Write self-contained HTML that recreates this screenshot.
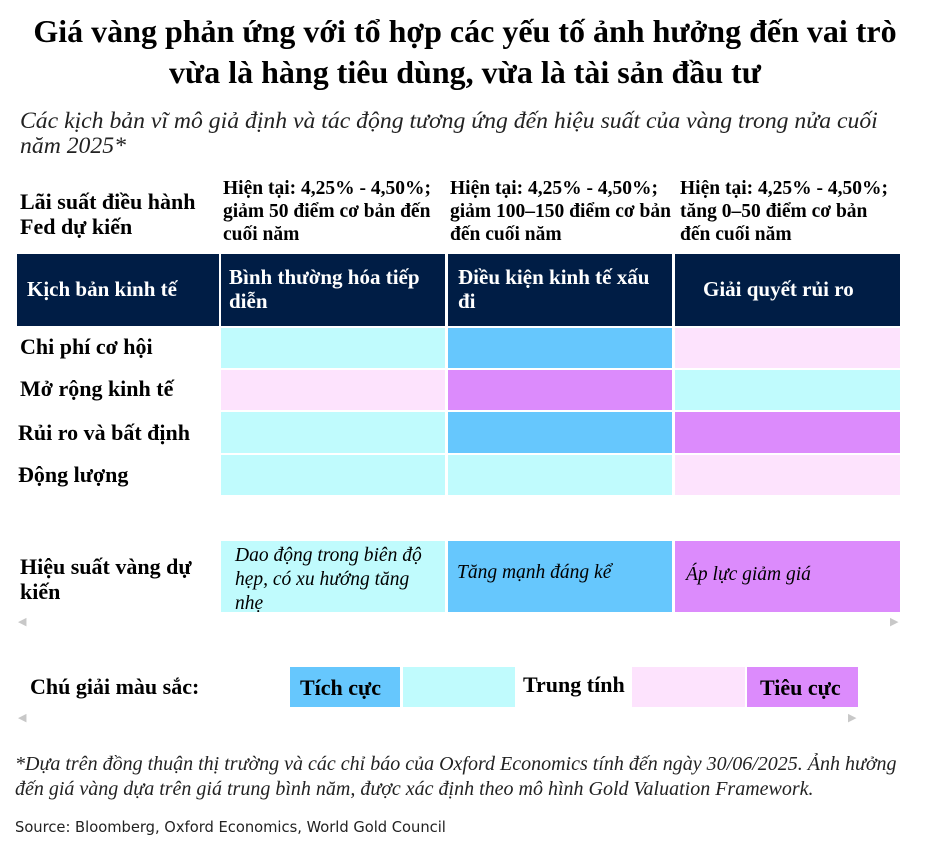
<!DOCTYPE html>
<html><head><meta charset="utf-8"><style>
body{margin:0;width:930px;height:841px;background:#fff;position:relative;font-family:"Liberation Serif",serif;color:#000;overflow:hidden}
.a{position:absolute;box-sizing:border-box;white-space:nowrap}
.b{font-weight:bold}
.nv{background:#001d45;color:#fff;font-weight:bold;font-size:21px;line-height:24px}
.cy{background:#c0fbfd}.bl{background:#66c7fd}.pk{background:#fde3fd}.pu{background:#dc8bfc}
.lab{font-weight:bold;font-size:22px}
.hd{font-weight:bold;font-size:19.5px;line-height:23px}
.it{font-style:italic;font-size:19.5px;line-height:24px}
.arr{color:#c8c8c8;font-size:11px}
</style></head><body>
<div class="a b" style="left:0;top:11px;width:930px;text-align:center;font-size:32px;line-height:41px">Giá vàng phản ứng với tổ hợp các yếu tố ảnh hưởng đến vai trò<br>vừa là hàng tiêu dùng, vừa là tài sản đầu tư</div>
<div class="a" style="left:20px;top:109px;font-style:italic;font-size:23.7px;line-height:25px;color:#222">Các kịch bản vĩ mô giả định và tác động tương ứng đến hiệu suất của vàng trong nửa cuối<br>năm 2025*</div>
<div class="a lab" style="left:20px;top:189px;line-height:25px">Lãi suất điều hành<br>Fed dự kiến</div>
<div class="a hd" style="left:223px;top:177px">Hiện tại: 4,25% - 4,50%;<br>giảm 50 điểm cơ bản đến<br>cuối năm</div>
<div class="a hd" style="left:450px;top:177px">Hiện tại: 4,25% - 4,50%;<br>giảm 100–150 điểm cơ bản<br>đến cuối năm</div>
<div class="a hd" style="left:680px;top:177px">Hiện tại: 4,25% - 4,50%;<br>tăng 0–50 điểm cơ bản<br>đến cuối năm</div>

<div class="a nv" style="left:17px;top:254px;width:202px;height:72px;padding:23px 0 0 10px">Kịch bản kinh tế</div>
<div class="a nv" style="left:221px;top:254px;width:224px;height:72px;padding:11px 0 0 8px">Bình thường hóa tiếp<br>diễn</div>
<div class="a nv" style="left:448px;top:254px;width:224px;height:72px;padding:11px 0 0 10px">Điều kiện kinh tế xấu<br>đi</div>
<div class="a nv" style="left:675px;top:254px;width:225px;height:72px;padding:23px 0 0 28px">Giải quyết rủi ro</div>

<div class="a lab" style="left:20px;top:334px">Chi phí cơ hội</div>
<div class="a cy" style="left:221px;top:328px;width:224px;height:40px"></div>
<div class="a bl" style="left:448px;top:328px;width:224px;height:40px"></div>
<div class="a pk" style="left:675px;top:328px;width:225px;height:40px"></div>

<div class="a lab" style="left:20px;top:376px">Mở rộng kinh tế</div>
<div class="a pk" style="left:221px;top:370px;width:224px;height:40px"></div>
<div class="a pu" style="left:448px;top:370px;width:224px;height:40px"></div>
<div class="a cy" style="left:675px;top:370px;width:225px;height:40px"></div>

<div class="a lab" style="left:18px;top:420px">Rủi ro và bất định</div>
<div class="a cy" style="left:221px;top:412px;width:224px;height:41px"></div>
<div class="a bl" style="left:448px;top:412px;width:224px;height:41px"></div>
<div class="a pu" style="left:675px;top:412px;width:225px;height:41px"></div>

<div class="a lab" style="left:18px;top:462px">Động lượng</div>
<div class="a cy" style="left:221px;top:455px;width:224px;height:40px"></div>
<div class="a cy" style="left:448px;top:455px;width:224px;height:40px"></div>
<div class="a pk" style="left:675px;top:455px;width:225px;height:40px"></div>

<div class="a lab" style="left:20px;top:554px;line-height:25px">Hiệu suất vàng dự<br>kiến</div>
<div class="a cy it" style="left:221px;top:541px;width:224px;height:71px;padding:3px 0 0 14px;overflow:hidden">Dao động trong biên độ<br>hẹp, có xu hướng tăng<br>nhẹ</div>
<div class="a bl it" style="left:448px;top:541px;width:224px;height:71px;padding:20px 0 0 9px">Tăng mạnh đáng kể</div>
<div class="a pu it" style="left:675px;top:541px;width:225px;height:71px;padding:22px 0 0 11px">Áp lực giảm giá</div>
<div class="a arr" style="left:18px;top:615px">◀</div>
<div class="a arr" style="left:890px;top:615px">▶</div>

<div class="a lab" style="left:30px;top:674px">Chú giải màu sắc:</div>
<div class="a bl lab" style="left:290px;top:667px;width:110px;height:40px;padding:8px 0 0 10px">Tích cực</div>
<div class="a cy" style="left:403px;top:667px;width:112px;height:40px"></div>
<div class="a lab" style="left:523px;top:672px">Trung tính</div>
<div class="a pk" style="left:632px;top:667px;width:113px;height:40px"></div>
<div class="a pu lab" style="left:747px;top:667px;width:111px;height:40px;padding:8px 0 0 13px">Tiêu cực</div>
<div class="a arr" style="left:18px;top:711px">◀</div>
<div class="a arr" style="left:848px;top:711px">▶</div>

<div class="a" style="left:15px;top:752px;font-style:italic;font-size:20px;line-height:25px;color:#222">*Dựa trên đồng thuận thị trường và các chỉ báo của Oxford Economics tính đến ngày 30/06/2025. Ảnh hưởng<br>đến giá vàng dựa trên giá trung bình năm, được xác định theo mô hình Gold Valuation Framework.</div>
<div class="a" style="left:15px;top:819px;font-family:'DejaVu Sans',sans-serif;font-size:14.7px;color:#222">Source: Bloomberg, Oxford Economics, World Gold Council</div>
</body></html>
